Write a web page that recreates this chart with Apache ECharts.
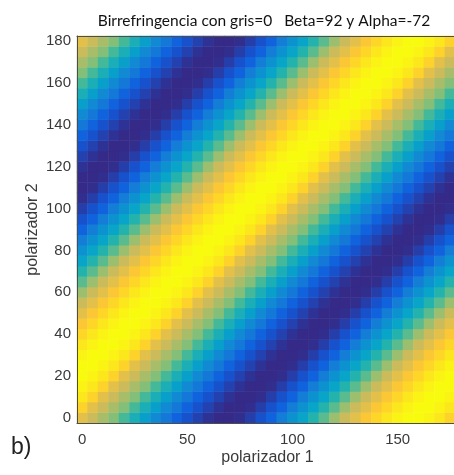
<!DOCTYPE html>
<html>
<head>
<meta charset="utf-8">
<script src="https://cdn.jsdelivr.net/npm/echarts@6/dist/echarts.min.js"></script>
<style>
  html, body { margin: 0; padding: 0; background: #fff; }
  #chart { width: 454px; height: 475px; }
</style>
</head>
<body>
<div id="chart"></div>
<script>
// ejes: 0..180 en pasos de 5 grados
const polarizador1 = ['0','5','10','15','20','25','30','35','40','45','50','55','60','65','70','75','80','85','90','95','100','105','110','115','120','125','130','135','140','145','150','155','160','165','170','175','180'];
const polarizador2 = polarizador1.slice();

// el patron se repite a lo largo de las diagonales
const perfilDiagonal = [0.80, 0.74, 0.68, 0.62, 0.53, 0.44, 0.36, 0.28, 0.22, 0.15,
                        0.10, 0.06, 0.02, 0.00, 0.00, 0.01, 0.05, 0.10, 0.15, 0.24,
                        0.31, 0.38, 0.47, 0.56, 0.66, 0.74, 0.80, 0.87, 0.91, 0.95,
                        0.98, 1.00, 1.00, 0.98, 0.95, 0.90];

// colormap parula
const parula = ['#352a87', '#0f5cdd', '#1481d6', '#06a4ca', '#2eb7a4', '#87bf77', '#d1bb59', '#fec832', '#f9fb0e'];

// armar celdas [x, y, valor]
const celdas = [];
for (let i = 0; i < polarizador1.length; i++) {
    for (let j = 0; j < polarizador2.length; j++) {
        const n = perfilDiagonal.length;
        const k = (((i - j) % n) + n) % n;
        celdas.push([i, j, perfilDiagonal[k]]);
    }
}

const colorEje = '#4d4d4d';
const colorTexto = '#3a3a3a';

const chart = echarts.init(document.getElementById('chart'));

const option = {
    animation: false,
    title: {
        text: 'Birrefringencia con gris=0   Beta=92 y Alpha=-72',
        left: 259,
        top: 8,
        textAlign: 'center',
        textStyle: { fontFamily: 'Lato', fontSize: 15.5, fontWeight: 'normal', color: '#111' }
    },
    graphic: [{
        type: 'text',
        left: 11,
        top: 436,
        style: { text: 'b)', fontFamily: 'Liberation Sans', fontSize: 23, fill: '#222' }
    }],
    grid: {
        left: 77,
        top: 36,
        width: 389,
        height: 387,
        outerBoundsMode: 'none'
    },
    visualMap: {
        show: false,
        min: 0,
        max: 1,
        calculable: false,
        inRange: { color: parula }
    },
    xAxis: [{
        type: 'category',
        data: polarizador1,
        position: 'bottom',
        z: 5,
        name: 'polarizador 1',
        nameLocation: 'middle',
        nameGap: 27,
        nameMoveOverlap: false,
        nameTextStyle: { fontFamily: 'Liberation Sans', fontSize: 16, color: colorTexto, padding: [0, 8, 0, 0] },
        axisLine: { lineStyle: { color: colorEje, width: 1 } },
        axisTick: { inside: true, length: 4, alignWithLabel: true, interval: 9, lineStyle: { color: colorEje } },
        axisLabel: { interval: 9, margin: 9, fontFamily: 'Liberation Sans', fontSize: 15, color: colorTexto },
        splitLine: { show: false }
    }, {
        // borde superior con ticks, como el box de MATLAB
        type: 'category',
        data: polarizador1,
        position: 'top',
        z: 5,
        axisLine: { lineStyle: { color: colorEje, width: 1 } },
        axisTick: { inside: true, length: 4, alignWithLabel: true, interval: 9, lineStyle: { color: colorEje } },
        axisLabel: { show: false },
        splitLine: { show: false }
    }],
    yAxis: {
        type: 'category',
        data: polarizador2,
        z: 5,
        name: 'polarizador 2',
        nameLocation: 'middle',
        nameGap: 36,
        nameMoveOverlap: false,
        nameRotate: 90,
        nameTextStyle: { fontFamily: 'Liberation Sans', fontSize: 16, color: colorTexto },
        axisLine: { lineStyle: { color: colorEje, width: 1 } },
        axisTick: { inside: true, length: 4, alignWithLabel: true, interval: 3, lineStyle: { color: colorEje } },
        axisLabel: { interval: 3, margin: 6, fontFamily: 'Liberation Sans', fontSize: 15, color: colorTexto },
        splitLine: { show: false }
    },
    series: [{
        type: 'heatmap',
        xAxisIndex: 0,
        yAxisIndex: 0,
        data: celdas,
        itemStyle: { borderWidth: 0 },
        emphasis: { disabled: true }
    }]
};

chart.setOption(option);
</script>
</body>
</html>
